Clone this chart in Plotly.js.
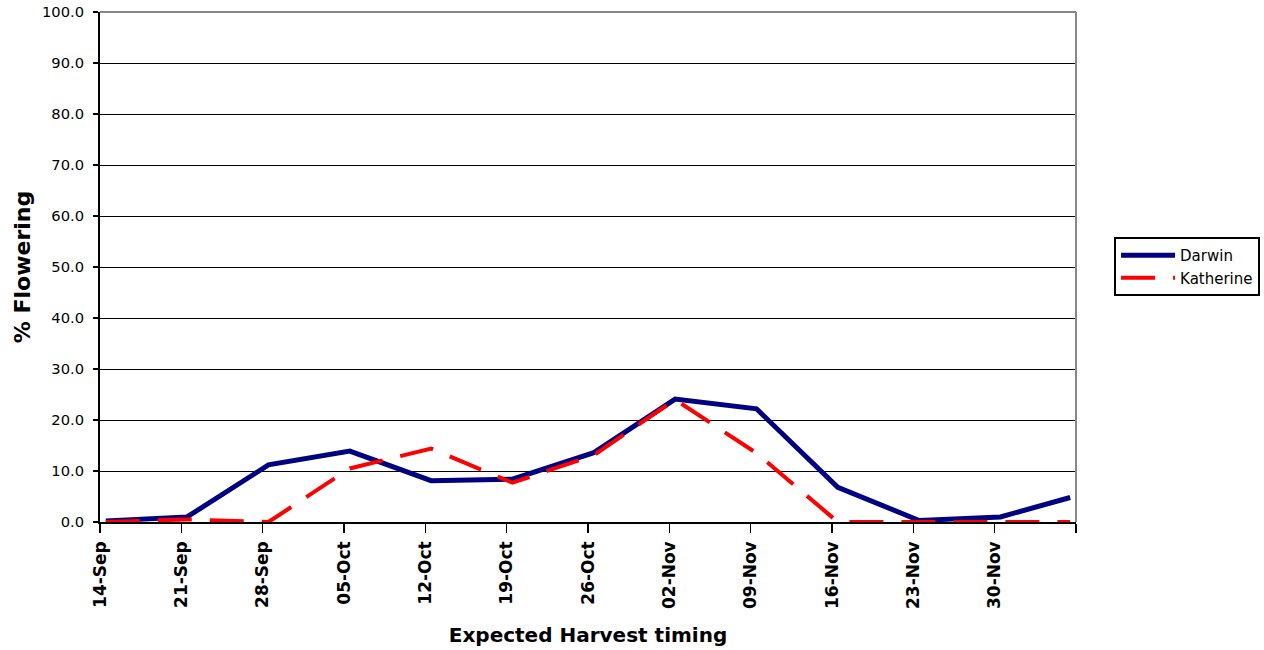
<!DOCTYPE html>
<html>
<head>
<meta charset="utf-8">
<script src="https://cdn.plot.ly/plotly-3.0.1.min.js"></script>
<style>
html,body{margin:0;padding:0;background:#fff;}
#chart{width:1264px;height:650px;}
</style>
</head>
<body>
<div id="chart"></div>
<script>
// Sample dates (Excel date axis, points centred in their day)
const sampleDates = ["2009-09-14","2009-09-21","2009-09-28","2009-10-05","2009-10-12","2009-10-19","2009-10-26","2009-11-02","2009-11-09","2009-11-16","2009-11-23","2009-11-30","2009-12-06"];
const darwin    = [0.2, 1.0, 11.2, 13.9, 8.1, 8.4, 13.6, 24.1, 22.2, 6.8, 0.3, 1.0, 4.8];
const katherine = [0.0, 0.5, 0.0, 10.5, 14.4, 7.7, 13.1, 24.0, 13.5, 0.0, 0.0, 0.0, 0.0];
const tickDates  = ["2009-09-14","2009-09-21","2009-09-28","2009-10-05","2009-10-12","2009-10-19","2009-10-26","2009-11-02","2009-11-09","2009-11-16","2009-11-23","2009-11-30","2009-12-07"];
const tickLabels = ["14-Sep","21-Sep","28-Sep","05-Oct","12-Oct","19-Oct","26-Oct","02-Nov","09-Nov","16-Nov","23-Nov","30-Nov",""];

const xs = sampleDates.map(d => d + " 12:00");
const FONT = "DejaVu Sans, Arial, sans-serif";

const traces = [
  {x: xs, y: darwin, name: "Darwin", type: "scatter", mode: "lines",
   line: {color: "#000080", width: 5}},
  {x: xs, y: katherine, name: "Katherine", type: "scatter", mode: "lines",
   line: {color: "#FF0000", width: 4, dash: "34px,18px"}}
];

const layout = {
  width: 1264, height: 650,
  margin: {l: 100, r: 188, t: 12, b: 128, autoexpand: false},
  paper_bgcolor: "#fff", plot_bgcolor: "#fff",
  font: {family: FONT, color: "#000"},
  showlegend: true,
  legend: {x: 1.039, y: 0.559, xanchor: "left", yanchor: "top",
           bordercolor: "#000", borderwidth: 2, bgcolor: "#fff",
           font: {family: FONT, size: 15, color: "#000"},
           itemwidth: 54},
  xaxis: {
    type: "date",
    range: ["2009-09-14", "2009-12-07"],
    tickvals: tickDates, ticktext: tickLabels,
    tickangle: -90,
    tickfont: {family: FONT, size: 17, color: "#000", weight: "bold"},
    ticks: "outside", ticklen: 9, tickwidth: 1.5, tickcolor: "#000",
    ticklabelstandoff: 2,
    showline: true, linecolor: "#000", linewidth: 1.5,
    showgrid: false, zeroline: false,
    title: {text: "<b>Expected Harvest timing</b>", font: {family: FONT, size: 20, color: "#000"}, standoff: 20}
  },
  yaxis: {
    range: [0, 100], dtick: 10, tick0: 0, tickformat: ".1f",
    tickfont: {family: FONT, size: 14.7, color: "#000"},
    ticks: "outside", ticklen: 5, tickwidth: 1.5, tickcolor: "#000",
    ticklabelstandoff: 6,
    showline: true, linecolor: "#000", linewidth: 2,
    showgrid: true, gridcolor: "#000", gridwidth: 1,
    zeroline: false,
    title: {text: "<b>% Flowering</b>", font: {family: FONT, size: 22, color: "#000"}, standoff: 5}
  },
  shapes: [
    {type: "line", xref: "paper", yref: "paper", x0: 0, x1: 1, y0: 1, y1: 1, line: {color: "#888", width: 2}, layer: "above"},
    {type: "line", xref: "paper", yref: "paper", x0: 1, x1: 1, y0: 0, y1: 1, line: {color: "#888", width: 2}, layer: "above"}
  ]
};

Plotly.newPlot("chart", traces, layout, {displayModeBar: false, staticPlot: true});
</script>
</body>
</html>
